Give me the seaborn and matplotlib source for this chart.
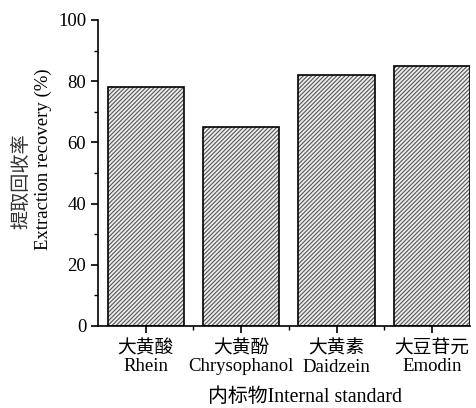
import matplotlib
matplotlib.use("Agg")
import matplotlib.pyplot as plt
import seaborn as sns
import pandas as pd
from matplotlib.ticker import MultipleLocator, FixedLocator

# Internal standards and their extraction recovery (%)
names_cn = ["大黄酸", "大黄酚", "大黄素", "大豆苷元"]
names_en = ["Rhein", "Chrysophanol", "Daidzein", "Emodin"]
recovery = [78, 65, 82, 85]

labels = [f"{c}\n{e}" for c, e in zip(names_cn, names_en)]
df = pd.DataFrame({"standard": labels, "recovery": recovery})

sns.set_theme(style="ticks")
fam = ["Liberation Serif", "Noto Sans CJK SC"]
plt.rcParams["font.family"] = fam
plt.rcParams["hatch.linewidth"] = 0.8
plt.rcParams["axes.linewidth"] = 1.2

fig = plt.figure(figsize=(4.77, 4.08), dpi=100)
ax = fig.add_axes([0.2055, 0.201, 0.78, 0.75])

# hatched fill
sns.barplot(data=df, x="standard", y="recovery", ax=ax, width=0.8,
            color="#eeeeee", edgecolor="#555555", linewidth=0, hatch="////////",
            saturation=1, errorbar=None)
# black outline on top
sns.barplot(data=df, x="standard", y="recovery", ax=ax, width=0.8,
            fill=False, edgecolor="black", linewidth=1.2, errorbar=None)

ax.set_ylim(0, 100)
ax.set_xlim(-0.5, 3.4)
ax.yaxis.set_major_locator(MultipleLocator(20))
ax.yaxis.set_minor_locator(MultipleLocator(10))
ax.xaxis.set_minor_locator(FixedLocator([0.5, 1.5, 2.5]))
ax.tick_params(axis="both", which="major", direction="out", length=5, width=1.2,
               color="black", labelsize=13.5, labelcolor="black")
ax.tick_params(axis="both", which="minor", direction="out", length=3, width=1.0,
               color="black")
ax.tick_params(axis="x", which="major", pad=5)
for t in ax.get_xticklabels():
    t.set_linespacing(1.1)
    t.set_family(fam)

ax.spines["top"].set_visible(False)
ax.spines["right"].set_visible(False)
ax.spines["left"].set_color("black")
ax.spines["bottom"].set_color("black")

ax.set_xlabel("")
ax.set_ylabel("")
fig.text(305 / 477, 1 - 398 / 408, "内标物Internal standard", ha="center",
         va="center", fontsize=14.3, color="black", family=fam)
fig.text(21 / 477, 1 - 181 / 408, "提取回收率", rotation=90, ha="center",
         va="center", fontsize=13.8, color="#333333", family=fam)
fig.text(43 / 477, 1 - 159 / 408, "Extraction recovery (%)", rotation=90,
         ha="center", va="center", fontsize=13.5, color="black", family=fam)

fig.savefig("out.png", dpi=100)
